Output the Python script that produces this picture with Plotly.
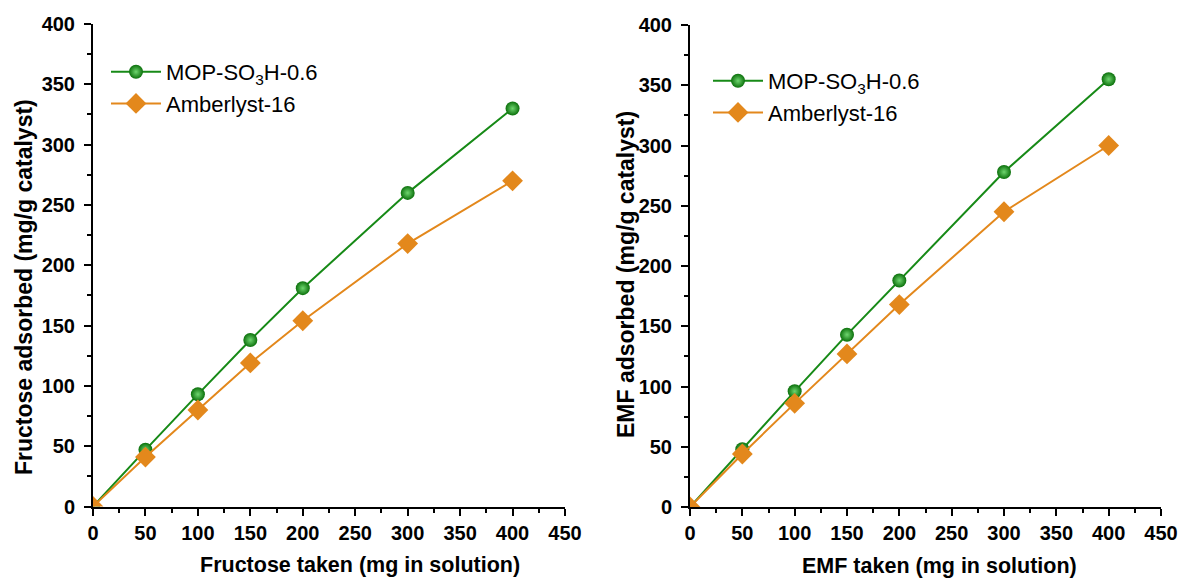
import plotly.graph_objects as go

x_vals = [0, 50, 100, 150, 200, 300, 400]
fru_mop = [0, 47, 93, 138, 181, 260, 330]
fru_amb = [0, 41, 80, 119, 154, 218, 270]
emf_mop = [0, 48, 96, 143, 188, 278, 355]
emf_amb = [0, 44, 86, 127, 168, 245, 300]

x_ticks = [0, 50, 100, 150, 200, 250, 300, 350, 400, 450]
y_ticks = [0, 50, 100, 150, 200, 250, 300, 350, 400]

names = ["MOP-SO<sub>3</sub>H-0.6", "Amberlyst-16"]
titles = ["Fructose taken (mg in solution)", "Fructose adsorbed (mg/g catalyst)",
          "EMF taken (mg in solution)", "EMF adsorbed (mg/g catalyst)"]
green = "#178a17"
orange = "#e3881c"
font_family = "Liberation Sans, Arial, sans-serif"

W, H = 1179, 579

fig = go.Figure()

def add_pair(xa, ya, mop, amb, legend):
    fig.add_trace(go.Scatter(
        x=x_vals, y=mop, mode="lines+markers", name=names[0],
        xaxis=xa, yaxis=ya, legend=legend,
        line=dict(color=green, width=2),
        marker=dict(symbol="circle", size=14, color="#0b700b",
                    gradient=dict(type="radial", color="#6fd66f"),
                    line=dict(width=0))))
    fig.add_trace(go.Scatter(
        x=x_vals, y=amb, mode="lines+markers", name=names[1],
        xaxis=xa, yaxis=ya, legend=legend,
        line=dict(color=orange, width=2),
        marker=dict(symbol="diamond", size=16, color=orange, line=dict(width=0))))

add_pair("x", "y", fru_mop, fru_amb, "legend")
add_pair("x2", "y2", emf_mop, emf_amb, "legend2")

tickfont = dict(family=font_family, size=20, color="black")

def bold(vals):
    return ["<b>%d</b>" % v for v in vals]

common = dict(ticks="outside", ticklen=7, tickwidth=2, tickcolor="black",
              showline=True, linecolor="black", linewidth=2, showgrid=False,
              zeroline=False, tickfont=tickfont, automargin=False,
              minor=dict(ticks="outside", ticklen=4, tickwidth=2, dtick=25, tick0=0,
                         tickcolor="black", showgrid=False))

def xaxis_cfg(domain, anchor):
    return dict(domain=domain, anchor=anchor, range=[0, 450],
                tickmode="array", tickvals=x_ticks, ticktext=bold(x_ticks),
                ticklabelstandoff=0, **common)

def yaxis_cfg(domain, anchor):
    return dict(domain=domain, anchor=anchor, range=[0, 400],
                tickmode="array", tickvals=y_ticks, ticktext=bold(y_ticks),
                ticklabelstandoff=5, **common)

def px_x(p):
    return p / W

def px_y(p):
    return 1 - p / H

legfont = dict(family=font_family, size=22, color="black")

fig.update_layout(
    width=W, height=H,
    margin=dict(l=0, r=0, t=0, b=0),
    paper_bgcolor="white", plot_bgcolor="white",
    showlegend=True,
    xaxis=xaxis_cfg([px_x(93), px_x(565)], "y"),
    yaxis=yaxis_cfg([px_y(506.5), px_y(24)], "x"),
    xaxis2=xaxis_cfg([px_x(690), px_x(1161)], "y2"),
    yaxis2=yaxis_cfg([px_y(507), px_y(25)], "x2"),
    legend=dict(x=px_x(106), y=px_y(51), xanchor="left", yanchor="top", font=legfont,
                bgcolor="rgba(0,0,0,0)", itemwidth=50, tracegroupgap=0),
    legend2=dict(x=px_x(708), y=px_y(60), xanchor="left", yanchor="top", font=legfont,
                 bgcolor="rgba(0,0,0,0)", itemwidth=50, tracegroupgap=0),
)

xt_font = dict(family=font_family, size=21.5, color="black")
yt_font = dict(family=font_family, size=23, color="black")
fig.add_annotation(text="<b>%s</b>" % titles[0], xref="paper", yref="paper",
                   x=px_x(360), y=px_y(565), xanchor="center", yanchor="middle",
                   showarrow=False, font=xt_font)
fig.add_annotation(text="<b>%s</b>" % titles[1], xref="paper", yref="paper",
                   x=px_x(24), y=px_y(287), xanchor="center", yanchor="middle",
                   textangle=-90, showarrow=False, font=yt_font)
fig.add_annotation(text="<b>%s</b>" % titles[2], xref="paper", yref="paper",
                   x=px_x(939), y=px_y(566), xanchor="center", yanchor="middle",
                   showarrow=False, font=xt_font)
fig.add_annotation(text="<b>%s</b>" % titles[3], xref="paper", yref="paper",
                   x=px_x(626), y=px_y(275), xanchor="center", yanchor="middle",
                   textangle=-90, showarrow=False, font=yt_font)

fig.write_html("out.html",
               config={"displayModeBar": False},
               post_script="document.body.style.margin='0';"
                           "document.body.style.overflow='hidden';")
